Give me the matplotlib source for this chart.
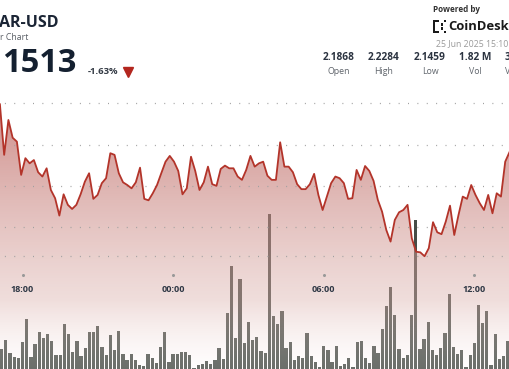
import numpy as np
import matplotlib.pyplot as plt
from matplotlib.patches import Polygon, Rectangle

plt.rcParams['font.family'] = ['Open Sans', 'DejaVu Sans']

# price, 121 samples across the visible window
price = [
    2.2195, 2.1950, 2.2119, 2.2033, 2.2014, 2.1853, 2.1934, 2.1909, 2.1925, 2.1866,
    2.1845, 2.1885, 2.1780, 2.1740, 2.1656, 2.1759, 2.1708, 2.1688, 2.1708, 2.1759,
    2.1820, 2.1861, 2.1737, 2.1756, 2.1813, 2.1837, 2.1958, 2.1950, 2.1861, 2.1817,
    2.1804, 2.1788, 2.1817, 2.1888, 2.1737, 2.1730, 2.1764, 2.1804, 2.1861, 2.1917,
    2.1945, 2.1917, 2.1872, 2.1759, 2.1788, 2.1941, 2.1872, 2.1780, 2.1817, 2.1893,
    2.1808, 2.1800, 2.1882, 2.1898, 2.1885, 2.1885, 2.1845, 2.1829, 2.1877, 2.1945,
    2.1893, 2.1909, 2.1917, 2.1849, 2.1829, 2.1829, 2.2011, 2.1893, 2.1893, 2.1866,
    2.1808, 2.1784, 2.1784, 2.1808, 2.1858, 2.1756, 2.1683, 2.1748, 2.1813, 2.1845,
    2.1837, 2.1813, 2.1737, 2.1740, 2.1877, 2.1829, 2.1896, 2.1872, 2.1824, 2.1732,
    2.1675, 2.1586, 2.1530, 2.1635, 2.1672, 2.1683, 2.1708, 2.1546, 2.1481, 2.1478,
    2.1459, 2.1498, 2.1624, 2.1575, 2.1566, 2.1627, 2.1704, 2.1562, 2.1659, 2.1748,
    2.1737, 2.1804, 2.1756, 2.1716, 2.1683, 2.1756, 2.1667, 2.1764, 2.1748, 2.1917,
    2.1963,
]

# 10-minute volume bars (thousands)
volume = [
    29.3, 23.3, 31.7, 18.7, 15.3, 13.7, 29.7, 53.0, 15.0, 28.0,
    39.7, 33.7, 38.0, 31.3, 16.7, 17.0, 47.7, 37.7, 20.0, 30.7,
    16.0, 24.3, 40.3, 40.3, 45.7, 24.7, 17.0, 36.7, 22.3, 40.7,
    18.3, 12.3, 18.3, 12.0, 7.0, 6.0, 18.3, 13.7, 8.7, 24.7,
    40.3, 10.3, 18.3, 17.7, 19.7, 19.7, 16.7, 4.3, 7.3, 8.3,
    11.0, 8.0, 11.7, 24.0, 13.3, 59.0, 106.0, 33.7, 92.7, 29.3,
    49.7, 32.3, 35.3, 21.3, 19.3, 157.7, 56.3, 48.3, 61.3, 23.7,
    30.3, 11.7, 16.0, 14.0, 39.0, 15.7, 10.3, 5.3, 26.0, 22.0,
    10.3, 26.0, 6.3, 8.0, 14.3, 5.3, 30.3, 31.0, 13.7, 8.7,
    26.3, 19.3, 43.0, 66.3, 84.7, 56.7, 23.3, 14.3, 17.0, 57.3,
    152.0, 23.3, 33.3, 49.7, 22.0, 17.0, 23.7, 38.7, 77.7, 25.3,
    18.0, 22.3, 5.3, 17.0, 29.0, 67.3, 48.7, 61.3, 6.7, 38.0,
    13.0, 16.0, 30.7,
]

grid_levels = [2.22, 2.20, 2.18, 2.16, 2.1459]
tick_minutes = [0, 360, 720, 1080]
tick_labels = ['18:00', '00:00', '06:00', '12:00']

stats_values = ['2.1868', '2.2284', '2.1459', '1.82 M']
stats_names = ['Open', 'High', 'Low', 'Vol']

# minutes relative to 18:00
line_t = np.linspace(-54, 1164, len(price))
bar_t = -60 + 10 * np.arange(len(volume))
xmin, xmax = -53.8, 1165.3
ylo, yhi = 2.0913, 2.2700

fig = plt.figure(figsize=(5.1, 3.69), dpi=100)
ax_vol = fig.add_axes([0, 0, 1, 1])
ax = fig.add_axes([0, 0, 1, 1])
ax.patch.set_alpha(0)

ax_vol.bar(bar_t, volume, width=7.8, color='#464d47', linewidth=0)
ax_vol.set_xlim(xmin, xmax)
ax_vol.set_ylim(3, 372)
ax_vol.axis('off')

# gradient fill under the price line
H = 369
rows = np.arange(H)
stops_y = [100, 300, 369]
stops = np.array([[185, 90, 85, 0.70 * 255],
                  [219, 176, 171, 0.42 * 255],
                  [255, 250, 250, 0.20 * 255]]) / 255.0
grad = np.zeros((H, 1, 4))
for c in range(4):
    grad[:, 0, c] = np.interp(rows, stops_y, stops[:, c])
verts = np.column_stack([line_t, price])
verts = np.vstack([verts, [[line_t[-1], 2.0], [line_t[0], 2.0]]])
poly = Polygon(verts, closed=True, facecolor='none', edgecolor='none')
ax.add_patch(poly)
im = ax.imshow(grad, extent=[xmin, xmax, ylo, yhi], aspect='auto',
               interpolation='bilinear', origin='upper', zorder=2)
im.set_clip_path(poly)

for lv in grid_levels:
    ax.axhline(lv, color='#a0a0a0', lw=0.9, ls=(4, (0.8, 6.7)), zorder=3)

ax.plot(line_t, price, color='#b3342a', lw=1.3, zorder=4)

ax.set_xlim(xmin, xmax)
ax.set_ylim(ylo, yhi)
ax.axis('off')

for m, lab in zip(tick_minutes, tick_labels):
    ax.plot(m, 1 - 275 / 369, marker='o', ms=1.2, color='#999999',
            transform=ax.get_xaxis_transform(), zorder=5)
    ax.text(m, 1 - 289 / 369, lab, transform=ax.get_xaxis_transform(),
            ha='center', va='center', fontsize=6.5, fontweight='bold',
            color='#2e3744', zorder=5)

def px(x, y):
    return x / 510, 1 - y / 369

fig.text(*px(-1, 23), 'AR-USD', fontsize=11.5, fontweight='bold',
         color='#1b2535', ha='left', va='center')
fig.text(*px(0, 37), 'r Chart', fontsize=6.3, color='#5a5f66',
         ha='left', va='center')
fig.text(*px(2.5, 63), '1513', fontsize=23.5, fontweight='bold',
         color='#142030', ha='left', va='center')
fig.text(*px(88, 72), '-1.63%', fontsize=6.8, fontweight='bold',
         color='#343b45', ha='left', va='center')
fig.lines.append(plt.Line2D([128 / 510], [1 - 72 / 369], marker='v', ms=6.5,
                            color='#b3261e', transform=fig.transFigure))

fig.text(*px(433, 9.5), 'Powered by', fontsize=5.9, fontweight='bold',
         color='#333333', ha='left', va='center')
fig.text(*px(448, 27), 'CoinDesk', fontsize=9.4, fontweight='bold',
         color='#1a1a1a', ha='left', va='center')
for (x0, y0, w, h) in [(433, 20, 2.5, 13), (435.5, 20, 4, 2.2), (435.5, 30.8, 4, 2.2),
                       (441, 23.5, 2.2, 2.2), (441, 27.5, 2.2, 2.2), (444.5, 20, 2, 2.2),
                       (444.5, 30.8, 2, 2.2)]:
    fig.patches.append(Rectangle((x0 / 510, 1 - (y0 + h) / 369), w / 510, h / 369,
                                 facecolor='#1a1a1a', transform=fig.transFigure))
fig.text(*px(436.5, 44), '25 Jun 2025 15:10', fontsize=6.3, color='#9a9a9a',
         ha='left', va='center')

for cx, v, n in zip([339, 384, 430, 475.5], stats_values, stats_names):
    fig.text(*px(cx, 58), v, fontsize=7.3, fontweight='bold', color='#2b3340',
             ha='center', va='center')
    fig.text(*px(cx, 71.5), n, fontsize=6.3, color='#5f646b',
             ha='center', va='center')
fig.text(*px(505, 58), '3.97 M', fontsize=7.3, fontweight='bold', color='#2b3340',
         ha='left', va='center')
fig.text(*px(505, 71.5), 'Vol $', fontsize=6.3, color='#5f646b',
         ha='left', va='center')

fig.savefig('out.png', dpi=100)
plt.close(fig)
